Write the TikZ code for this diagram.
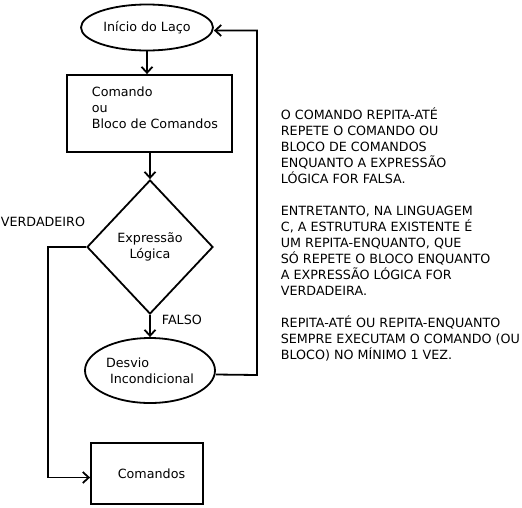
\documentclass[tikz,border=0pt]{standalone}
\usepackage{fontspec}
\setmainfont{DejaVu Sans}
\usepackage{tikz}
\usetikzlibrary{shapes.geometric,arrows.meta}

\begin{document}
\begin{tikzpicture}[x=1pt,y=-1pt,line width=1.8pt,
		>={Straight Barb[length=6pt,width=11pt]},
		font=\fontsize{12.7}{16}\selectfont,
		termo/.style={draw,ellipse,inner sep=0pt},
		bloco/.style={draw,rectangle,inner sep=0pt},
		decisao/.style={draw,diamond,inner sep=0pt,minimum width=126pt,minimum height=134pt}]
			\useasboundingbox (0,0) rectangle (522,507);
			\node[termo,minimum width=132pt,minimum height=46pt](inicio) at (147,27.5) {In\'icio do La\c{c}o};
			\node[bloco,minimum width=165pt,minimum height=77pt](comando) at (149.5,113.5) {};
			\node[anchor=west,align=left,inner sep=0pt](comandotxt) at (91,108)
			{
				Comando\\
				ou\\
				Bloco de Comandos
			};
			\node[decisao,align=center](cond) at (150,247) {Express\~ao\\L\'ogica};
			\node[termo,minimum width=130pt,minimum height=65pt,align=left](desvio) at (150,370.5)
			{
				Desvio\\
				\hspace{4pt}Incondicional
			};
			\node[bloco,minimum width=112pt,minimum height=61pt](cmds) at (147,473.5) {\hspace{9pt}Comandos};
			\node[anchor=base west,inner sep=0pt](verdadeiro) at (0,226.5) {VERDADEIRO};
			\node[anchor=base west,inner sep=0pt](falso) at (161,324.5) {FALSO};
			\node[anchor=base west,align=left,inner sep=0pt](nota) at (280,359.5)
			{
				O COMANDO REPITA-AT\'E\\
				REPETE O COMANDO OU\\
				BLOCO DE COMANDOS\\
				ENQUANTO A EXPRESS\~AO\\
				L\'OGICA FOR FALSA.\\[16pt]
				ENTRETANTO, NA LINGUAGEM\\
				C, A ESTRUTURA EXISTENTE \'E\\
				UM REPITA-ENQUANTO, QUE\\
				S\'O REPETE O BLOCO ENQUANTO\\
				A EXPRESS\~AO L\'OGICA FOR\\
				VERDADEIRA.\\[16pt]
				REPITA-AT\'E OU REPITA-ENQUANTO\\
				SEMPRE EXECUTAM O COMANDO (OU\\
				BLOCO) NO M\'INIMO 1 VEZ.
			};
			\draw[->] (inicio) -- (inicio |- comando.north);
			\draw[->] (comando.south -| cond) -- (cond);
			\draw[->] (cond) -- (desvio);
			\draw[->] (cond.west) -- (48,247) |- ([yshift=-4pt]cmds.west);
			\draw[->] ([yshift=-4pt]desvio.east) -- (257,375) |- ([yshift=-3pt]inicio.east);
		\end{tikzpicture}
\end{document}
